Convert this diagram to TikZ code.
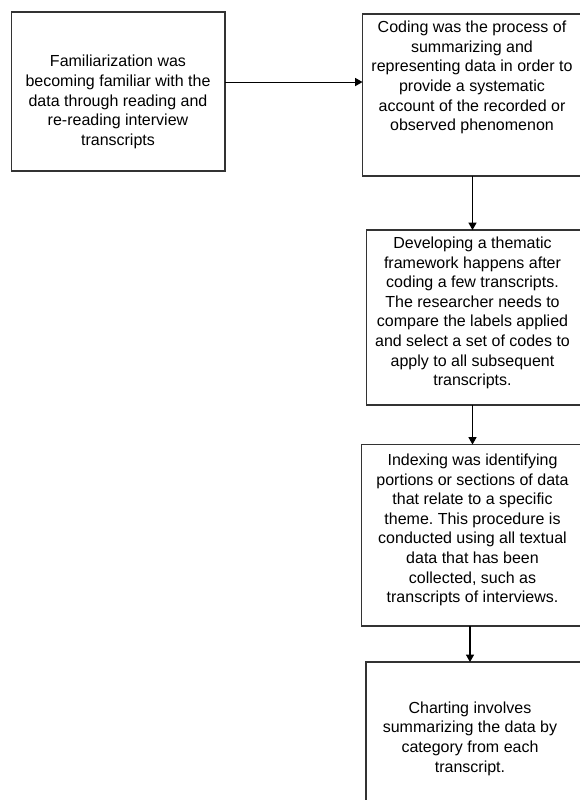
\documentclass[tikz,border=0pt]{standalone}
\usepackage{fontspec}
\setmainfont{Liberation Sans}
\usetikzlibrary{arrows.meta}
\frenchspacing
\begin{document}
\begin{tikzpicture}[x=0.75pt,y=-0.75pt,
  boxnode/.style={draw=black!80,line width=0.8pt,inner sep=0pt,outer sep=0pt,rectangle},
  txt/.style={align=center,inner sep=0pt,font=\fontsize{12}{14.7}\selectfont},
  arr/.style={draw=black,line width=0.8pt,-{Triangle[length=5.5pt,width=6pt]}}]
\useasboundingbox (0,0) rectangle (579,800);
\node[boxnode,minimum width=160.1pt,minimum height=119.25pt] (b1) at (118.25,91.5) {};
\node[boxnode,minimum width=178.1pt,minimum height=121.5pt] (b2) at (481.25,95) {};
\node[boxnode,minimum width=175.1pt,minimum height=131.25pt] (b3) at (483.25,317.5) {};
\node[boxnode,minimum width=178.9pt,minimum height=136.1pt] (b4) at (480.75,535.25) {};
\node[boxnode,minimum width=175.5pt,minimum height=118.5pt] (b5) at (483,741) {};
\node[txt] (t1) at (118,102) {Familiarization was\\becoming familiar with the\\data through reading and\\re-reading interview\\transcripts};
\node[txt] (t2) at (472,77.5) {Coding was the process of\\summarizing and\\representing data in order to\\provide a systematic\\account of the recorded or\\observed phenomenon};
\node[txt] (t3) at (472.5,313) {Developing a thematic\\framework happens after\\coding a few transcripts.\\The researcher needs to\\compare the labels applied\\and select a set of codes to\\apply to all subsequent\\transcripts.};
\node[txt] (t4) at (472.5,530) {Indexing was identifying\\portions or sections of data\\that relate to a specific\\theme. This procedure is\\conducted using all textual\\data that has been\\collected, such as\\transcripts of interviews.};
\node[txt] (t5) at (470,738.5) {Charting involves\\summarizing the data by\\category from each\\transcript.};
\draw[arr] ([yshift=7.1pt]b1.east) -- ([yshift=7.1pt]b1.east -| b2.west);
\draw[arr] (b2.south -| t3.center) -- (b3.north -| t3.center);
\draw[arr] (b3.south -| t4.center) -- (b4.north -| t4.center);
\draw[arr] (b4.south -| t5.center) -- (b5.north -| t5.center);
\end{tikzpicture}
\end{document}
